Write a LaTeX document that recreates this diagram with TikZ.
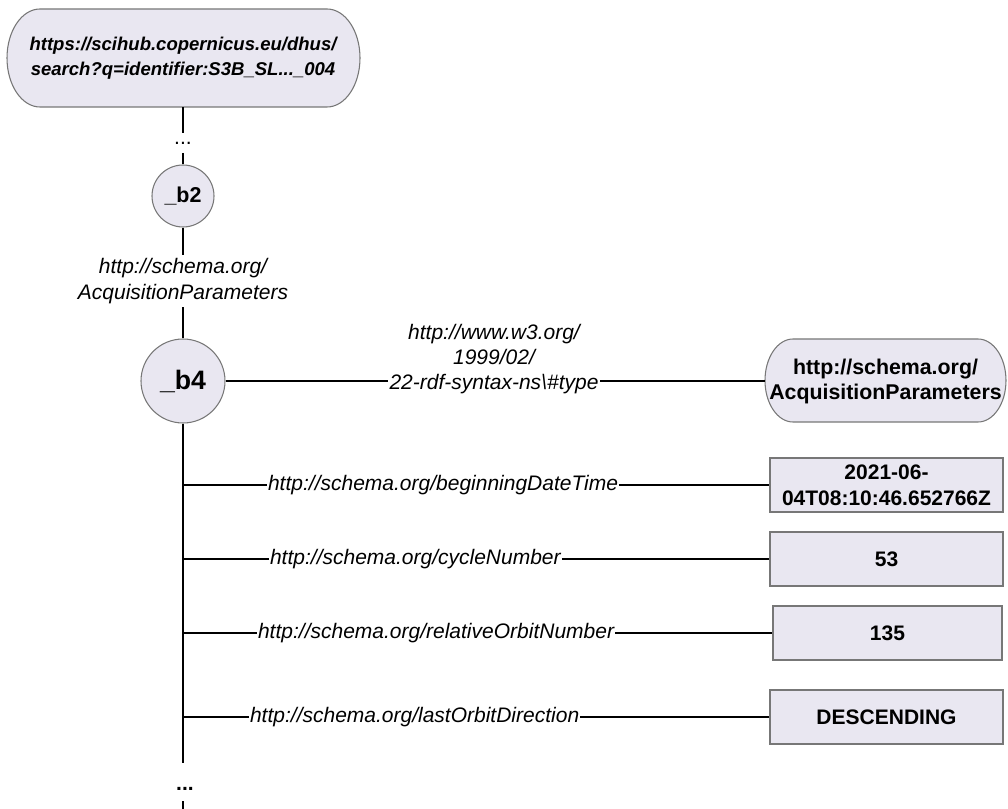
\documentclass[tikz,border=0pt]{standalone}
\usepackage{fontspec}
\setmainfont{Liberation Sans}
\definecolor{nodefill}{HTML}{E9E7F1}
\definecolor{nodeline}{HTML}{777777}
\begin{document}
\begin{tikzpicture}[x=0.75pt,y=-0.75pt,
  conn/.style={draw=black,line width=0.95pt},
  outline/.style={fill=nodefill,draw=nodeline,line width=0.8pt},
  lbl/.style={font=\fontsize{15.75}{19}\selectfont\itshape,inner sep=0.6pt},
  blank/.style={circle,outline,inner sep=0pt},
  literal/.style={rectangle,outline,inner sep=0pt,minimum width=174.75pt,
    minimum height=40.5pt,align=center,
    font=\fontsize{15.75}{19.5}\selectfont\bfseries},
  holder/.style={rectangle,inner sep=0pt,align=center}]
\useasboundingbox (0,0) rectangle (1008,809);

% resource shapes with flattened round ends
\path[outline] (40,9) -- (327,9)
  arc[start angle=-90,end angle=90,x radius=33,y radius=49] -- (40,107)
  arc[start angle=90,end angle=270,x radius=33,y radius=49] -- cycle;
\path[outline] (793,339) -- (978,339)
  arc[start angle=-90,end angle=90,x radius=28,y radius=41.5] -- (793,422)
  arc[start angle=90,end angle=270,x radius=28,y radius=41.5] -- cycle;

\node[holder,minimum width=264.75pt,minimum height=73.5pt,
  font=\fontsize{13.9}{18.75}\selectfont\bfseries\itshape] (top) at (183,58)
  {https://scihub.copernicus.eu/dhus/\\search?q=identifier:S3B\_SL...\_004};
\node[holder,minimum width=180.75pt,minimum height=62.25pt,
  font=\fontsize{16}{18.75}\selectfont\bfseries] (rt) at (885.5,381)
  {http://schema.org/\\AcquisitionParameters};

% blank nodes
\node[blank,minimum size=46.5pt,font=\fontsize{16.1}{19}\selectfont\bfseries] (b2) at (183,196) {\_b2};
\node[blank,minimum size=63pt,font=\fontsize{20}{24}\selectfont\bfseries] (b4) at (183,381) {\_b4};

% elided path from the search result down to _b2
\node[holder,minimum height=14.25pt,font=\fontsize{15.75}{19}\selectfont] (d1) at (183,143) {...};
\draw[conn] (top) -- (d1);
\draw[conn] (d1) -- (b2);

% _b2 -> _b4
\node[lbl,align=center,inner sep=2.5pt,font=\fontsize{15.75}{19.5}\selectfont\itshape] (lap) at (183,281)
  {http://schema.org/\\AcquisitionParameters};
\draw[conn] (b2) -- (lap) -- (b4);

% rdf:type edge
\draw[conn] (b4) -- (rt);
\node[lbl,align=center,fill=white,inner sep=1.5pt,font=\fontsize{15.75}{18.75}\selectfont\itshape] (lt) at (494,359.5)
  {http://www.w3.org/\\1999/02/\\22-rdf-syntax-ns\textbackslash\#type};

% literal values
\node[literal] (v1) at (886.5,485) {2021-06-\\04T08:10:46.652766Z};
\node[literal] (v2) at (886.5,559) {53};
\node[literal,minimum width=171.75pt] (v3) at (887.5,633) {135};
\node[literal] (v4) at (886.5,717) {DESCENDING};

% trunk below _b4 with property branches
\coordinate (vend) at (183,763);
\draw[conn] (b4) -- (vend);
\coordinate (j1) at (183,485);
\coordinate (j2) at (183,559);
\coordinate (j3) at (183,633);
\coordinate (j4) at (183,717);
\node[lbl,anchor=west] (p1) at (267,485) {http://schema.org/beginningDateTime};
\node[lbl,anchor=west] (p2) at (269,559) {http://schema.org/cycleNumber};
\node[lbl,anchor=west] (p3) at (257,633) {http://schema.org/relativeOrbitNumber};
\node[lbl,anchor=west] (p4) at (249,717) {http://schema.org/lastOrbitDirection};
\draw[conn] (j1) -- (p1) -- (v1);
\draw[conn] (j2) -- (p2) -- (v2);
\draw[conn] (j3) -- (p3) -- (v3);
\draw[conn] (j4) -- (p4) -- (v4);

% continuation marker
\node[inner sep=0pt,font=\fontsize{15.75}{19}\selectfont\bfseries] (more) at (185,789) {...};
\coordinate (vtail) at (183,801);
\coordinate (vbot) at (183,809);
\draw[conn] (vtail) -- (vbot);
\end{tikzpicture}
\end{document}
